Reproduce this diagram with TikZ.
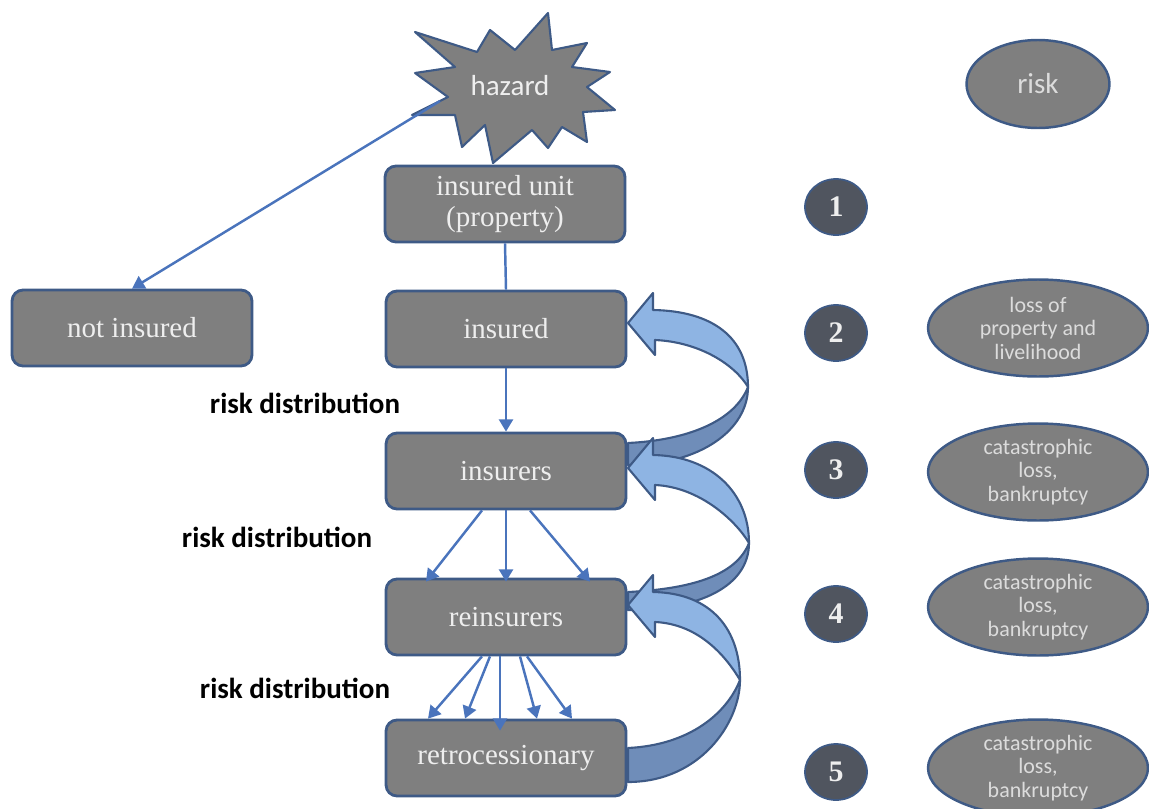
\documentclass[tikz,border=0pt]{standalone}
\usepackage{fontspec}
\usepackage{xcolor}
\newfontfamily\calibri{Carlito}
\newfontfamily\cambria{Liberation Serif}
\usetikzlibrary{arrows.meta,calc,shapes.geometric}
\definecolor{RKGray}{HTML}{7F7F7F}
\definecolor{RKEdge}{HTML}{3E5A86}
\definecolor{RKDark}{HTML}{50555F}
\definecolor{RKLine}{HTML}{4A74BC}
\definecolor{RKLight}{HTML}{8EB4E3}
\definecolor{RKShade}{HTML}{6F8DB9}
\definecolor{RKText}{HTML}{EEEEEE}
\definecolor{RKSoft}{HTML}{DCDCDC}

% curved return arrow: tip y, outer x, outer y, tail top y, tail bottom y
\newcommand{\backarrow}[5]{%
\draw[RKEdge,line width=1.2pt,fill=RKLight,line join=round] (653,{#1-13}) .. controls (712,{#1-12}) and (#2,{#3-50}) .. (#2,#3) .. controls ({#2-13},{#3-22}) and (700,{#1+19}) .. (655,{#1+17}) -- (655,{#1+32}) -- (628,#1) -- (653,{#1-30}) -- cycle;
\draw[RKEdge,line width=1.2pt,fill=RKShade,line join=round] (#2,#3) .. controls (#2,{#3+43}) and (700,#5) .. (628,#5) -- (628,#4) .. controls (690,{#4-3}) and ({#2-13},{#3+33}) .. (#2,#3) -- cycle;
}

\begin{document}
\begin{tikzpicture}[x=0.02cm,y={(0,-0.02cm)},
  rkbox/.style={draw=RKEdge,line width=1.6pt,fill=RKGray,rounded corners=0.22cm,minimum width=4.8cm,minimum height=1.52cm,text=RKText,font=\cambria\fontsize{16.5}{17.5}\selectfont,align=center},
  rkoval/.style={ellipse,draw=RKEdge,line width=1.4pt,fill=RKGray,inner sep=0pt,minimum width=4.4cm,minimum height=1.94cm},
  ovaltext/.style={text=RKSoft,font=\calibri\fontsize{12.5}{13.4}\selectfont,align=center},
  rknum/.style={ellipse,draw=RKEdge,line width=1pt,fill=RKDark,inner sep=0pt,minimum width=1.24cm,minimum height=1.12cm,text=RKText,font=\cambria\bfseries\fontsize{17}{18}\selectfont},
  rkarrow/.style={draw=RKLine,line width=1.4pt,-{Triangle[length=7pt,width=8pt]}},
  rklabel/.style={font=\calibri\bfseries\fontsize{16.5}{18}\selectfont,text=black}]
\path[use as bounding box] (0,0) rectangle (1149,808);

% hazard burst
\draw[RKEdge,line width=1.2pt,fill=RKGray,line join=round] (415,32) -- (477,52) -- (490,30) -- (515,50) -- (548,13) -- (552,50) -- (587,43) -- (572,67) -- (610,72) -- (587,87) -- (615,110) -- (583,112) -- (587,142) -- (562,127) -- (548,148) -- (532,130) -- (493,163) -- (485,125) -- (462,147) -- (455,115) -- (412,115) -- (448,97) -- (415,73) -- (455,67) -- cycle;
\node[font=\calibri\fontsize{16.5}{20}\selectfont,text=RKText] (hazard) at (510,86) {hazard};
\coordinate (hzfoot) at (440,101);

% chain of boxes
\node[rkbox] (unit) at (505,204) {insured unit\\(property)};
\node[rkbox] (noins) at (132,328) {not insured};
\node[rkbox] (insured) at (506,329) {insured};
\node[rkbox] (insurers) at (506,471) {insurers};
\node[rkbox] (reinsurers) at (506,617) {reinsurers};
\node[rkbox] (retro) at (506,758) {retrocessionary};

% connectors
\draw[rkarrow] (hzfoot) -- (noins.north);
\draw[RKLine,line width=1.4pt] (unit.south) -- (insured.north);
\draw[rkarrow] (insured.south) -- (insurers.north);
\foreach \a/\b in {-24/-80,0/0,24/84}
  \draw[rkarrow] ($(insurers.south)+(\a,0)$) -- ($(reinsurers.north)+(\b,4)$);
\foreach \a/\b/\c in {-24/-78/0,-16/-41/0,-6/-6/12,14/31/0,21/66/0}
  \draw[rkarrow] ($(reinsurers.south)+(\a,0)$) -- ($(retro.north)+(\b,\c)$);

% return arrows
\backarrow{323}{748}{387}{443}{465}
\backarrow{468}{749}{543}{592}{610}
\backarrow{605}{740}{680}{748}{782}

\node[rklabel] (dist1) at (305,403) {risk distribution};
\node[rklabel] (dist2) at (277,537) {risk distribution};
\node[rklabel] (dist3) at (295,688) {risk distribution};

% stages
\node[rknum] (n1) at (836,207) {1};
\node[rknum] (n2) at (836,333) {2};
\node[rknum] (n3) at (836,470) {3};
\node[rknum] (n4) at (836,614) {4};
\node[rknum] (n5) at (836,772) {5};

% risks
\node[rkoval,minimum width=2.86cm,minimum height=1.76cm] (risk) at (1038,84) {};
\node[text=RKSoft,font=\calibri\fontsize{16.5}{20}\selectfont] (risktext) at (risk) {risk};
\node[rkoval] (loss) at (1038,328) {};
\node[ovaltext] (losstext) at (loss) {loss of\\property and\\livelihood};
\node[rkoval] (cat3) at (1038,472) {};
\node[ovaltext] (cat3text) at (cat3) {catastrophic\\loss,\\bankruptcy};
\node[rkoval] (cat4) at (1038,607) {};
\node[ovaltext] (cat4text) at (cat4) {catastrophic\\loss,\\bankruptcy};
\node[rkoval] (cat5) at (1038,768) {};
\node[ovaltext] (cat5text) at (cat5) {catastrophic\\loss,\\bankruptcy};
\end{tikzpicture}
\end{document}
